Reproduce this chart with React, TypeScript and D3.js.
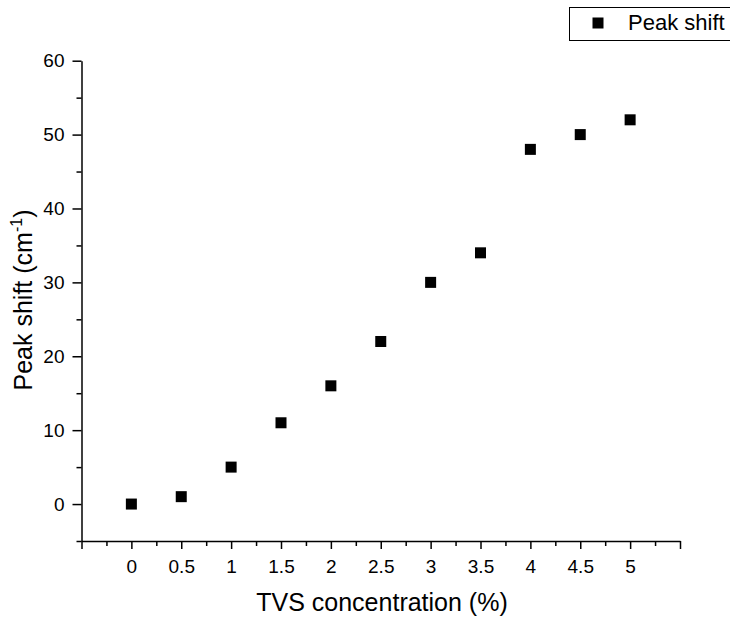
import React, { useEffect, useRef } from "react";
import * as d3 from "d3";

const concentrations = [0, 0.5, 1, 1.5, 2, 2.5, 3, 3.5, 4, 4.5, 5];
const peakShift = [0, 1, 5, 11, 16, 22, 30, 34, 48, 50, 52];
const xMajorTicks = [-0.5, 0, 0.5, 1, 1.5, 2, 2.5, 3, 3.5, 4, 4.5, 5, 5.5];
const xLabelled = [0, 0.5, 1, 1.5, 2, 2.5, 3, 3.5, 4, 4.5, 5];
const yMajorTicks = [0, 10, 20, 30, 40, 50, 60];
const yMinorTicks = [-5, 5, 15, 25, 35, 45, 55];
const seriesName = "Peak shift";

const FONT = "'Liberation Sans', Arial, sans-serif";

const App = () => {
  const svgRef = useRef<SVGSVGElement>(null);

  useEffect(() => {
    drawChart();
  }, []);

  const drawChart = () => {
    const svg = d3.select(svgRef.current);
    svg.selectAll("*").remove();

    const x = d3.scaleLinear().domain([-0.5, 5.5]).range([81.5, 680]);
    const y = d3.scaleLinear().domain([-5, 60]).range([541, 60.7]);

    const xMinor = xMajorTicks.slice(0, -1).map((d) => d + 0.25);

    // X axis minor ticks
    svg
      .append("g")
      .attr("transform", `translate(0,${y(-5)})`)
      .call(d3.axisBottom(x).tickValues(xMinor).tickSize(5).tickSizeOuter(0).tickFormat(() => ""))
      .call((g) => g.select(".domain").remove());

    // X axis
    svg
      .append("g")
      .attr("transform", `translate(0,${y(-5)})`)
      .call(
        d3
          .axisBottom(x)
          .tickValues(xMajorTicks)
          .tickSize(8)
          .tickSizeOuter(0)
          .tickPadding(11)
          .tickFormat((d) => (xLabelled.includes(+d) ? String(d) : ""))
      )
      .call((g) => g.selectAll("text").attr("font-size", 19).attr("font-family", FONT).attr("fill", "#000"));

    // Y axis minor ticks
    svg
      .append("g")
      .attr("transform", `translate(${x(-0.5)},0)`)
      .call(d3.axisLeft(y).tickValues(yMinorTicks).tickSize(5).tickSizeOuter(0).tickFormat(() => ""))
      .call((g) => g.select(".domain").remove());

    // Y axis
    svg
      .append("g")
      .attr("transform", `translate(${x(-0.5)},0)`)
      .call(d3.axisLeft(y).tickValues(yMajorTicks).tickSize(9).tickSizeOuter(0).tickPadding(8))
      .call((g) => g.selectAll("text").attr("font-size", 19).attr("font-family", FONT).attr("fill", "#000"));

    svg.selectAll(".domain, .tick line").attr("stroke", "#000").attr("stroke-width", 1.5);

    // Points
    const size = 11;
    svg
      .append("g")
      .selectAll("rect")
      .data(concentrations)
      .enter()
      .append("rect")
      .attr("x", (d) => x(d) - size / 2)
      .attr("y", (d, i) => y(peakShift[i]) - size / 2)
      .attr("width", size)
      .attr("height", size)
      .attr("fill", "#000");

    // Axis titles
    svg
      .append("text")
      .attr("x", 382)
      .attr("y", 611)
      .attr("text-anchor", "middle")
      .attr("font-family", FONT)
      .attr("font-size", 25)
      .text("TVS concentration (%)");

    const yTitle = svg
      .append("text")
      .attr("transform", "translate(32,300) rotate(-90)")
      .attr("text-anchor", "middle")
      .attr("font-family", FONT)
      .attr("font-size", 25);
    yTitle.append("tspan").text("Peak shift (cm");
    yTitle.append("tspan").attr("font-size", 16).attr("dy", -10).text("-1");
    yTitle.append("tspan").attr("dy", 10).text(")");

    // Legend
    const legend = svg.append("g");
    legend
      .append("rect")
      .attr("x", 569.5)
      .attr("y", 7.5)
      .attr("width", 300)
      .attr("height", 33)
      .attr("fill", "#fff")
      .attr("stroke", "#000")
      .attr("stroke-width", 1);
    legend
      .append("rect")
      .attr("x", 598 - size / 2)
      .attr("y", 23 - size / 2)
      .attr("width", size)
      .attr("height", size)
      .attr("fill", "#000");
    legend
      .append("text")
      .attr("x", 628)
      .attr("y", 30)
      .attr("font-family", FONT)
      .attr("font-size", 22)
      .text(seriesName);
  };

  return (
    <svg
      ref={svgRef}
      width={730}
      height={621}
      style={{ position: "absolute", left: 0, top: 0, background: "#fff" }}
    ></svg>
  );
};

export default App;
